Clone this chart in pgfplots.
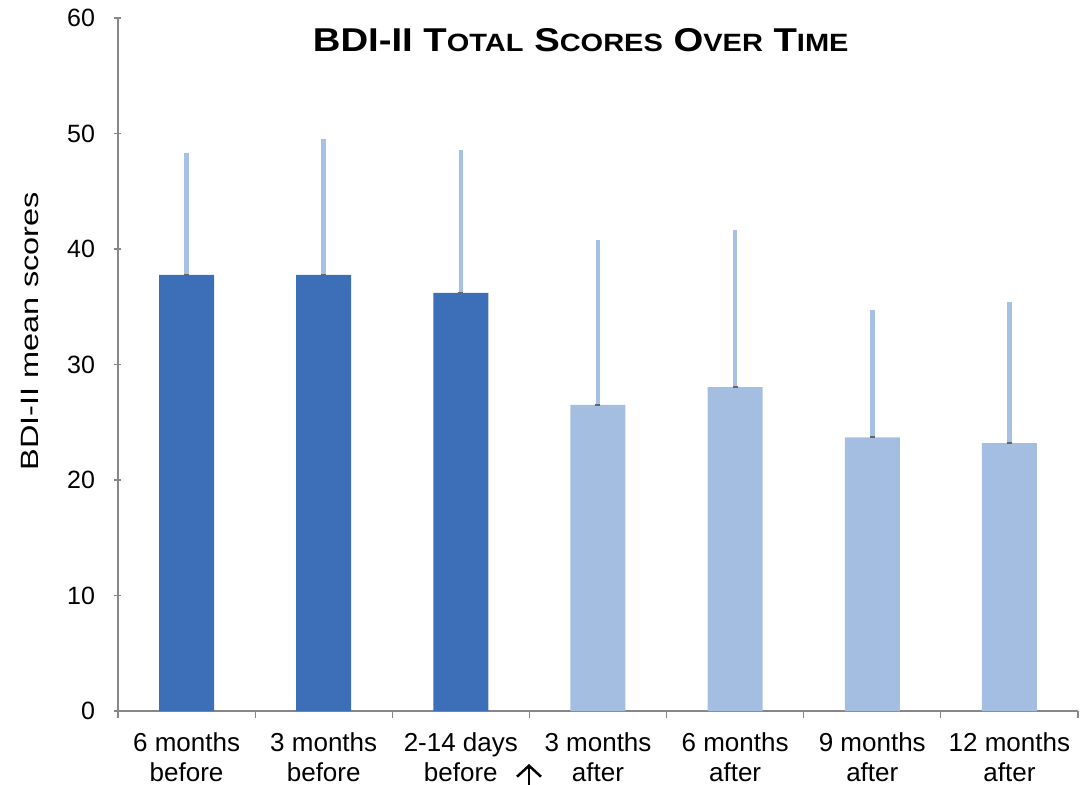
\documentclass[border=0pt]{standalone}
\usepackage{graphicx}
\usepackage{pgfplots}
\pgfplotsset{compat=1.18}
\usepackage{fontspec}
\setmainfont{Liberation Sans}
\usetikzlibrary{arrows.meta}
\definecolor{darkbar}{HTML}{3D6FB8}
\definecolor{lightbar}{HTML}{A4BEE2}
\definecolor{errbar}{HTML}{A7C0E5}
\definecolor{axgray}{HTML}{878787}
\newcommand\smc[1]{{\fontsize{25}{25}\selectfont #1}}
\begin{document}
\begin{tikzpicture}
\useasboundingbox (-118pt,-74pt) rectangle (970pt,711pt);
\begin{axis}[
  at={(0,0)}, anchor=south west,
  scale only axis,
  width=960pt, height=693pt,
  xmin=-0.5, xmax=6.5,
  ymin=0, ymax=60,
  ytick={0,10,...,60},
  xtick={0,...,6},
  xticklabels={{6 months\\before},{3 months\\before},{2-14 days\\before},{3 months\\after},{6 months\\after},{9 months\\after},{12 months\\after}},
  minor xtick={-0.5,0.5,...,6.5},
  major x tick style={draw=none},
  minor x tick style={axgray, line width=1.2pt},
  y tick style={axgray, line width=1.2pt},
  minor tick length=7pt,
  major tick length=7pt,
  tick align=outside,
  axis x line=bottom, axis y line=left,
  axis line style={-, axgray, line width=1.2pt},
  /pgf/number format/assume math mode=true,
  yticklabel style={font=\fontsize{25}{25}\selectfont, xshift=-16pt},
  xticklabel style={font=\fontsize{26}{30}\selectfont, align=center, yshift=-11pt},
  ylabel={\scalebox{1.3}[1]{BDI-II mean scores}},
  ylabel style={font=\fontsize{25}{25}\selectfont, at={(axis description cs:-0.0917,0.548)}, anchor=center},
  clip=false,
  ybar, bar width=55pt,
]
\addplot[fill=darkbar, draw=none, bar shift=0pt,
  error bars/.cd, y dir=plus, y explicit, error mark=none,
  error bar style={errbar, line width=4.5pt}]
  coordinates {(0,37.75) +- (0,10.6) (1,37.75) +- (0,11.8) (2,36.2) +- (0,12.4)};
\addplot[fill=lightbar, draw=none, bar shift=0pt,
  error bars/.cd, y dir=plus, y explicit, error mark=none,
  error bar style={errbar, line width=4.5pt}]
  coordinates {(3,26.5) +- (0,14.3) (4,28.05) +- (0,13.6) (5,23.7) +- (0,11.05) (6,23.2) +- (0,12.25)};
\addplot[only marks, mark=-, mark size=2.5pt, mark options={draw=gray!80!black, line width=2pt}]
  coordinates {(0,37.75) (1,37.75) (2,36.2) (3,26.5) (4,28.05) (5,23.7) (6,23.2)};
\node[anchor=base, font=\bfseries\fontsize{33}{33}\selectfont] at (axis description cs:0.482,0.951)
  {\scalebox{1.16}[1]{BDI-II T\smc{OTAL} S\smc{CORES} O\smc{VER} T\smc{IME}}};
\end{axis}
\draw[line width=2.5pt, -{Straight Barb[length=11pt, width=24pt]}] (411pt,-74pt) -- (411pt,-53pt);
\end{tikzpicture}
\end{document}
